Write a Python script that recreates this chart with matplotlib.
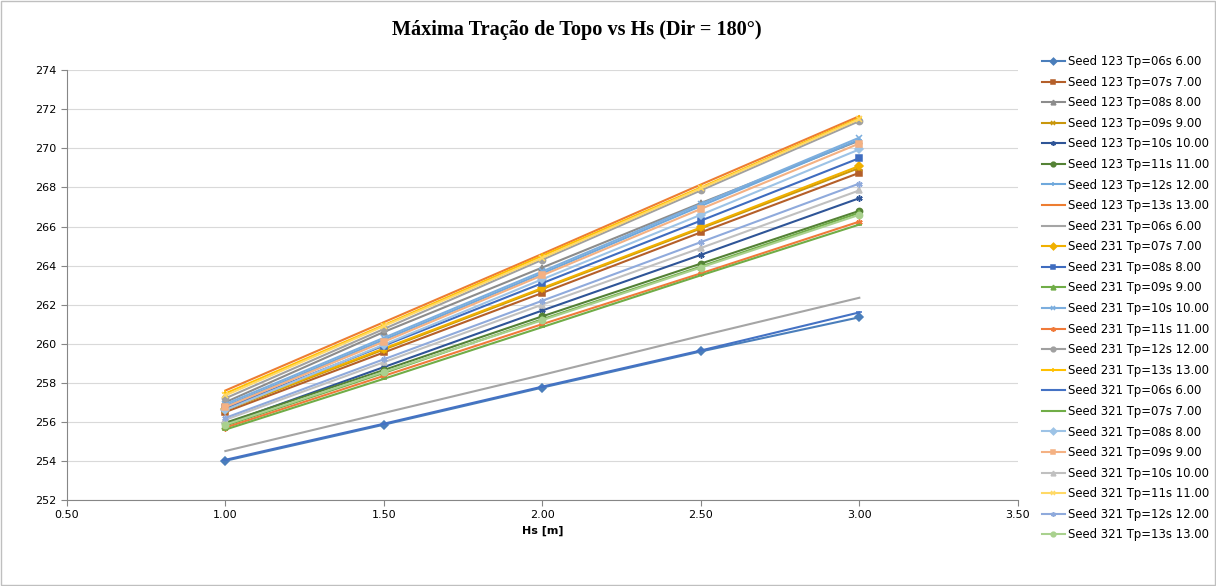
import matplotlib

matplotlib.use("Agg")
import matplotlib.pyplot as plt
from matplotlib.patches import Rectangle
from matplotlib.ticker import FormatStrFormatter, MultipleLocator

# Hs [m]
HS = [1.0, 1.5, 2.0, 2.5, 3.0]

LABELS = [
    "Seed 123 Tp=06s 6.00", "Seed 123 Tp=07s 7.00", "Seed 123 Tp=08s 8.00",
    "Seed 123 Tp=09s 9.00", "Seed 123 Tp=10s 10.00", "Seed 123 Tp=11s 11.00",
    "Seed 123 Tp=12s 12.00", "Seed 123 Tp=13s 13.00",
    "Seed 231 Tp=06s 6.00", "Seed 231 Tp=07s 7.00", "Seed 231 Tp=08s 8.00",
    "Seed 231 Tp=09s 9.00", "Seed 231 Tp=10s 10.00", "Seed 231 Tp=11s 11.00",
    "Seed 231 Tp=12s 12.00", "Seed 231 Tp=13s 13.00",
    "Seed 321 Tp=06s 6.00", "Seed 321 Tp=07s 7.00", "Seed 321 Tp=08s 8.00",
    "Seed 321 Tp=09s 9.00", "Seed 321 Tp=10s 10.00", "Seed 321 Tp=11s 11.00",
    "Seed 321 Tp=12s 12.00", "Seed 321 Tp=13s 13.00",
]

# máxima tração de topo por série
S123_TP06 = [254.00, 255.85, 257.75, 259.60, 261.35]
S123_TP07 = [256.50, 259.55, 262.60, 265.70, 268.75]
S123_TP08 = [257.00, 260.60, 263.90, 267.20, 270.40]
S123_TP09 = [256.60, 259.70, 262.80, 265.90, 269.00]
S123_TP10 = [255.90, 258.80, 261.70, 264.55, 267.45]
S123_TP11 = [255.95, 258.65, 261.40, 264.10, 266.80]
S123_TP12 = [256.80, 260.20, 263.60, 267.05, 270.45]
S123_TP13 = [257.60, 261.10, 264.60, 268.15, 271.65]
S231_TP06 = [254.50, 256.45, 258.40, 260.40, 262.35]
S231_TP07 = [256.65, 259.75, 262.85, 265.95, 269.10]
S231_TP08 = [256.70, 259.90, 263.10, 266.30, 269.50]
S231_TP09 = [255.80, 258.50, 261.25, 263.95, 266.70]
S231_TP10 = [256.90, 260.30, 263.70, 267.15, 270.55]
S231_TP11 = [255.70, 258.35, 261.00, 263.60, 266.25]
S231_TP12 = [257.20, 260.75, 264.30, 267.85, 271.40]
S231_TP13 = [257.45, 260.95, 264.50, 268.00, 271.55]
S321_TP06 = [254.05, 255.90, 257.80, 259.65, 261.60]
S321_TP07 = [255.60, 258.20, 260.85, 263.50, 266.10]
S321_TP08 = [256.60, 259.95, 263.30, 266.60, 269.95]
S321_TP09 = [256.75, 260.10, 263.50, 266.90, 270.25]
S321_TP10 = [256.10, 259.05, 262.00, 264.90, 267.85]
S321_TP11 = [257.35, 260.90, 264.40, 267.95, 271.50]
S321_TP12 = [256.20, 259.20, 262.20, 265.20, 268.20]
S321_TP13 = [255.85, 258.55, 261.20, 263.90, 266.60]

SERIES = [
    S123_TP06, S123_TP07, S123_TP08, S123_TP09, S123_TP10, S123_TP11, S123_TP12, S123_TP13,
    S231_TP06, S231_TP07, S231_TP08, S231_TP09, S231_TP10, S231_TP11, S231_TP12, S231_TP13,
    S321_TP06, S321_TP07, S321_TP08, S321_TP09, S321_TP10, S321_TP11, S321_TP12, S321_TP13,
]

COLORS = [
    "#4a7ebb", "#b45f2a", "#8c8c8c", "#c9970c", "#2f5597", "#548235", "#6fa8dc", "#ed7d31",
    "#a5a5a5", "#f0b000", "#3f6cbf", "#70ad47", "#7caede", "#f07a3a", "#a0a0a0", "#ffc000",
    "#4472c4", "#70ad47", "#9dc3e6", "#f4b183", "#c0c0c0", "#ffd966", "#8faadc", "#a9d18e",
]
MARKERS = ["D", "s", "^", "x", (6, 2, 0), "o", "+", "",
           "", "D", "s", "^", "x", (6, 2, 0), "o", "+",
           "_", "_", "D", "s", "^", "x", (6, 2, 0), "o"]

fig = plt.figure(figsize=(12.16, 5.86), dpi=100)
ax = fig.add_axes([0.055, 0.147, 0.782, 0.733])

for vals, lab, c, m in zip(SERIES, LABELS, COLORS, MARKERS):
    ax.plot(HS, vals, color=c, lw=1.5, marker=m if m else None,
            ms=4.5, mew=1.1, label=lab)

ax.set_xlim(0.5, 3.5)
ax.set_ylim(252, 274)
ax.xaxis.set_major_locator(MultipleLocator(0.5))
ax.yaxis.set_major_locator(MultipleLocator(2))
ax.xaxis.set_major_formatter(FormatStrFormatter("%.2f"))
ax.yaxis.set_major_formatter(FormatStrFormatter("%d"))
ax.grid(axis="y", color="#d9d9d9", lw=0.8)
ax.set_axisbelow(True)
for s in ["top", "right"]:
    ax.spines[s].set_visible(False)
for s in ["left", "bottom"]:
    ax.spines[s].set_color("#868686")
ax.tick_params(labelsize=8, color="#868686", length=4)
ax.set_xlabel("Hs [m]", fontsize=8, fontweight="bold", labelpad=4)

fig.text(0.474, 0.948, "Máxima Tração de Topo vs Hs (Dir = 180°)",
         ha="center", va="center", fontsize=14.6, fontweight="bold",
         family="Liberation Serif")

leg = fig.legend(loc="upper left", bbox_to_anchor=(0.853, 0.914), frameon=False,
                 fontsize=8.4, labelspacing=0.65, handlelength=1.95, handletextpad=0.25,
                 borderaxespad=0, markerscale=0.75)

fig.patches.append(Rectangle((0.001, 0.002), 0.998, 0.996, transform=fig.transFigure,
                             fill=False, ec="#bfbfbf", lw=1))

fig.savefig("out.png", dpi=100)
